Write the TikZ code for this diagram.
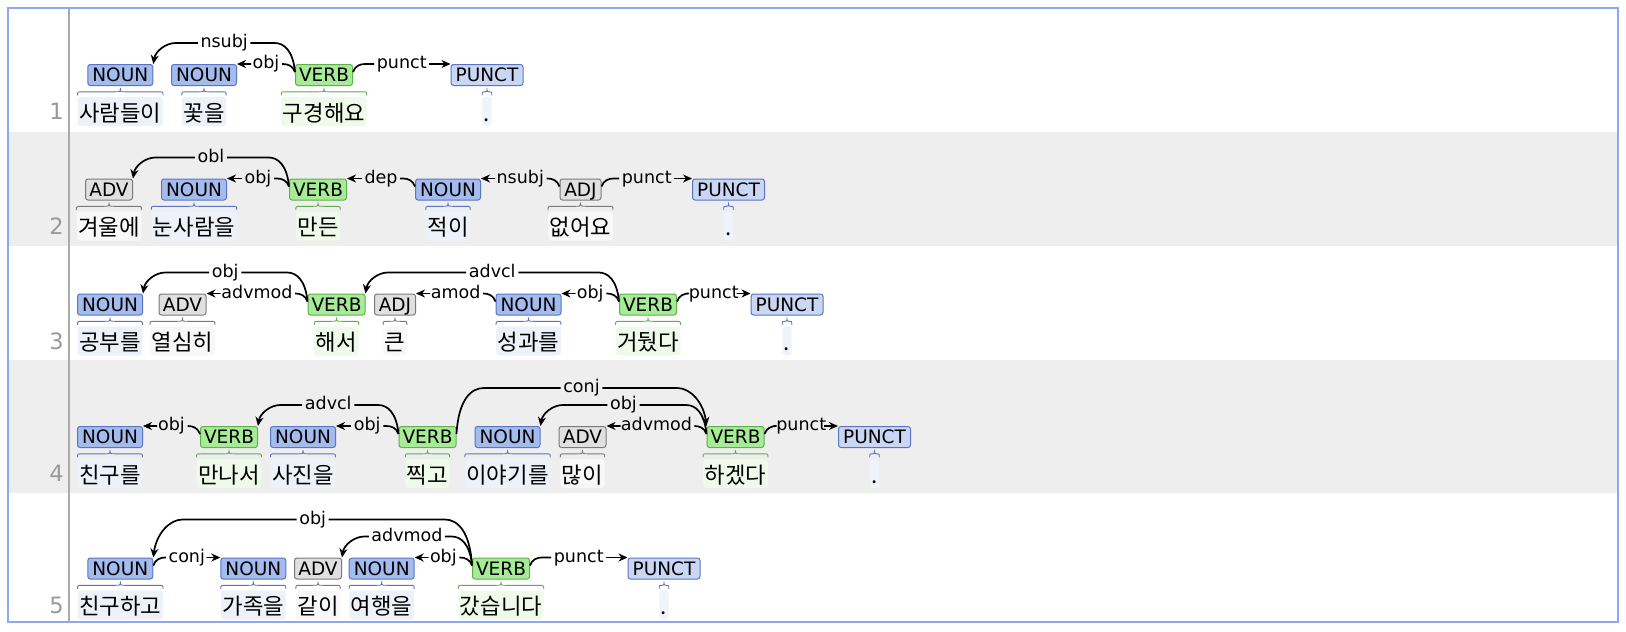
\documentclass[tikz,border=0pt]{standalone}
\usepackage{fontspec}
\setmainfont{DejaVu Sans}
\newfontfamily\krfont{Noto Sans CJK KR}
\usetikzlibrary{calc,arrows.meta}
\definecolor{bordc}{HTML}{8FA6F0}
\definecolor{bandc}{HTML}{EEEEEE}
\definecolor{vlinec}{HTML}{AAAAAA}
\definecolor{numc}{HTML}{999999}
\definecolor{nounF}{HTML}{A4BCED}
\definecolor{nounD}{HTML}{5A74C2}
\definecolor{nounW}{HTML}{EDF1FA}
\definecolor{verbF}{HTML}{A6EC96}
\definecolor{verbD}{HTML}{5FAF4A}
\definecolor{verbW}{HTML}{EFFBEA}
\definecolor{advF}{HTML}{E0E0E0}
\definecolor{advD}{HTML}{7A7A7A}
\definecolor{advW}{HTML}{F8F8F8}
\definecolor{punF}{HTML}{CAD7F4}
\definecolor{punD}{HTML}{5A74C2}
\definecolor{punW}{HTML}{F0F3FA}
\tikzset{
  pbase/.style={draw, line width=1pt, rounded corners=2.5pt, inner xsep=0pt, inner ysep=3.75pt, minimum height=21pt, text height=13.5pt, text depth=0pt, font=\fontsize{18.5}{20}\selectfont},
  pNOUN/.style={pbase, fill=nounF, draw=nounD, minimum width=65pt},
  pVERB/.style={pbase, fill=verbF, draw=verbD, minimum width=57pt},
  pADV/.style={pbase, fill=advF, draw=advD, minimum width=47pt},
  pADJ/.style={pbase, fill=advF, draw=advD, minimum width=41pt},
  pPUNCT/.style={pbase, fill=punF, draw=punD, minimum width=72pt},
  wbase/.style={rounded corners=3pt, inner xsep=1.5pt, inner ysep=5pt, text height=19pt, text depth=0pt, font=\krfont\fontsize{22.3}{24}\selectfont},
  wNOUN/.style={wbase, fill=nounW},
  wVERB/.style={wbase, fill=verbW},
  wADV/.style={wbase, fill=advW},
  wADJ/.style={wbase, fill=advW},
  wPUNCT/.style={wbase, fill=punW},
  bNOUN/.style={draw=nounD},
  bVERB/.style={draw=verbD},
  bADV/.style={draw=advD},
  bADJ/.style={draw=advD},
  bPUNCT/.style={draw=punD},
  brc/.style={line width=0.9pt},
  lbl/.style={inner xsep=2.5pt, inner ysep=0pt, text height=9.5pt, text depth=0pt, font=\fontsize{17.5}{19}\selectfont},
  arcl/.style={line width=1.7pt, black},
  arrowed/.style={arcl, -{Stealth[length=9pt,width=8pt]}},
  rownum/.style={text=numc, font=\fontsize{22.5}{24}\selectfont, text height=16.4pt, text depth=0pt, inner sep=0pt},
}
% brace above a word node: node, colour style, corner radius
\newcommand\wbrace[3]{%
  \draw[brc,#2] let \p1=(#1.north west), \p2=(#1.north east), \p3=($(#1.north west)!.5!(#1.north east)$) in
    (\x1,\y1+1.5pt) .. controls (\x1,\y1+5pt) .. (\x1+#3pt,\y1+5pt)
    -- (\x3-#3pt,\y1+5pt) .. controls (\x3,\y1+5pt) .. (\x3,\y1+9pt)
    .. controls (\x3,\y1+5pt) .. (\x3+#3pt,\y1+5pt)
    -- (\x2-#3pt,\y1+5pt) .. controls (\x2,\y1+5pt) .. (\x2,\y1+1.5pt);
}
% token: name, x, row top, POS, word, brace radius
\newcommand\tok[6]{%
  \node[p#4] (#1) at (#2,#3+10.5) {#4};
  \node[w#4] (#1w) at (#2,#3+47) {#5};
  \wbrace{#1w}{b#4}{#6}
}
% dependency to the left: source, target, level offset, label, label name
\newcommand\depL[5]{%
  \node[lbl] (#5) at ($(#1.north west)!.5!(#2.north east)+(0,-#3)$) {#4};
  \draw[arcl] ($(#1.north west)+(0,8)$) .. controls +(-2,{-0.75*(#3+8)}) and +({5+0.2*#3},0) .. ($(#1.north west)+({-12-0.4*#3},-#3)$) -- (#5.east);
  \draw[arrowed] (#5.west) -- ($(#2.north east)+({14+0.4*#3},-#3)$) .. controls +({-6-0.2*#3},0) and +({1+0.05*#3},{-0.6*#3}) .. (#2.north east);
}
% dependency to the right
\newcommand\depR[5]{%
  \node[lbl] (#5) at ($(#1.north east)!.5!(#2.north west)+(0,-#3)$) {#4};
  \draw[arcl] ($(#1.north east)+(0,8)$) .. controls +(2,{-0.75*(#3+8)}) and +({-5-0.2*#3},0) .. ($(#1.north east)+({12+0.4*#3},-#3)$) -- (#5.west);
  \draw[arrowed] (#5.east) -- ($(#2.north west)+({-14-0.4*#3},-#3)$) .. controls +({6+0.2*#3},0) and +({-1-0.05*#3},{-0.6*#3}) .. (#2.north west);
}
\begin{document}
\begin{tikzpicture}[x=1pt,y=-1pt]
\useasboundingbox (0,0) rectangle (1626,632);
\fill[white] (0,0) rectangle (1626,632);
\fill[bandc] (8,132) rectangle (1618,246);
\fill[bandc] (8,360) rectangle (1618,493);
\draw[vlinec, line width=2pt] (69,9) -- (69,621);
\draw[bordc, line width=2pt] (8.3,8.3) rectangle (1617.7,621.7);
% row numbers
\node[rownum] (n1) at (56.5,64.5+47) {1};
\node[rownum] (n2) at (56.5,179+47) {2};
\node[rownum] (n3) at (56.5,294+47) {3};
\node[rownum] (n4) at (56.5,426.5+47) {4};
\node[rownum] (n5) at (56.5,558+47) {5};
% row 1
\tok{a1}{120.3}{64.5}{NOUN}{사람들이}{5}
\tok{a2}{204}{64.5}{NOUN}{꽃을}{5}
\tok{a3}{324}{64.5}{VERB}{구경해요}{5}
\tok{a4}{487}{64.5}{PUNCT}{.}{2}
\depL{a3}{a1}{21}{nsubj}{l11}
\depL{a3}{a2}{0}{obj}{l12}
\depR{a3}{a4}{0}{punct}{l13}
% row 2
\tok{b1}{109}{179}{ADV}{겨울에}{5}
\tok{b2}{194}{179}{NOUN}{눈사람을}{5}
\tok{b3}{318}{179}{VERB}{만든}{5}
\tok{b4}{448}{179}{NOUN}{적이}{5}
\tok{b5}{580.5}{179}{ADJ}{없어요}{5}
\tok{b6}{728.5}{179}{PUNCT}{.}{2}
\depL{b3}{b1}{21}{obl}{l21}
\depL{b3}{b2}{0}{obj}{l22}
\depL{b4}{b3}{0}{dep}{l23}
\depL{b5}{b4}{0}{nsubj}{l24}
\depR{b5}{b6}{0}{punct}{l25}
% row 3
\tok{c1}{110}{294}{NOUN}{공부를}{5}
\tok{c2}{182.5}{294}{ADV}{열심히}{5}
\tok{c3}{336.5}{294}{VERB}{해서}{5}
\tok{c4}{395}{294}{ADJ}{큰}{5}
\tok{c5}{528.5}{294}{NOUN}{성과를}{5}
\tok{c6}{648}{294}{VERB}{거뒀다}{5}
\tok{c7}{787}{294}{PUNCT}{.}{2}
\depL{c3}{c1}{21}{obj}{l31}
\depL{c3}{c2}{0}{advmod}{l32}
\depL{c6}{c3}{21}{advcl}{l33}
\depL{c5}{c4}{0}{amod}{l34}
\depL{c6}{c5}{0}{obj}{l35}
\depR{c6}{c7}{0}{punct}{l36}
% row 4
\tok{d1}{110}{426.5}{NOUN}{친구를}{5}
\tok{d2}{229}{426.5}{VERB}{만나서}{5}
\tok{d3}{303}{426.5}{NOUN}{사진을}{5}
\tok{d4}{427.5}{426.5}{VERB}{찍고}{5}
\tok{d5}{507.5}{426.5}{NOUN}{이야기를}{5}
\tok{d6}{582.5}{426.5}{ADV}{많이}{5}
\tok{d7}{735.5}{426.5}{VERB}{하겠다}{5}
\tok{d8}{874.5}{426.5}{PUNCT}{.}{2}
\depL{d2}{d1}{0}{obj}{l41}
\depL{d4}{d2}{21}{advcl}{l42}
\depL{d4}{d3}{0}{obj}{l43}
\depR{d4}{d7}{38}{conj}{l44}
\depL{d7}{d5}{21}{obj}{l45}
\depL{d7}{d6}{0}{advmod}{l46}
\depR{d7}{d8}{0}{punct}{l47}
% row 5
\tok{e1}{120.3}{558}{NOUN}{친구하고}{5}
\tok{e2}{253.3}{558}{NOUN}{가족을}{5}
\tok{e3}{318}{558}{ADV}{같이}{5}
\tok{e4}{381.7}{558}{NOUN}{여행을}{5}
\tok{e5}{501}{558}{VERB}{갔습니다}{5}
\tok{e6}{664}{558}{PUNCT}{.}{2}
\depL{e5}{e1}{38}{obj}{l51}
\depR{e1}{e2}{0}{conj}{l52}
\depL{e5}{e3}{21}{advmod}{l53}
\depL{e5}{e4}{0}{obj}{l54}
\depR{e5}{e6}{0}{punct}{l55}
\end{tikzpicture}
\end{document}
